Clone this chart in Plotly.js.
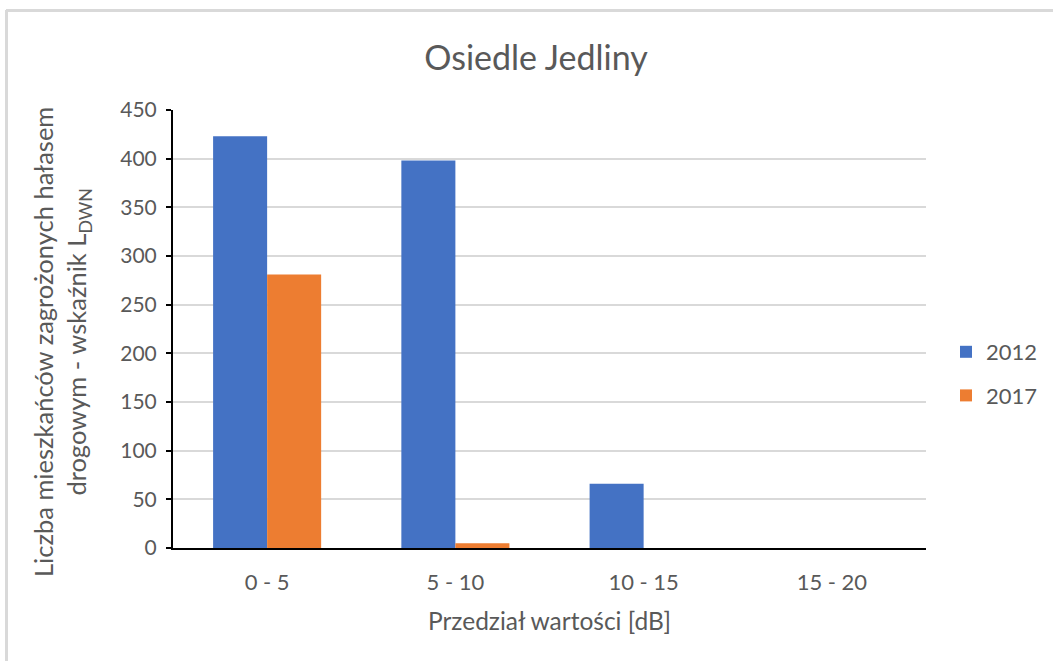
<!DOCTYPE html>
<html>
<head>
<meta charset="utf-8">
<script src="https://cdn.plot.ly/plotly-3.0.1.min.js"></script>
<style>html,body{margin:0;padding:0;background:#fff;}#chart{width:1053px;height:661px;}</style>
</head>
<body>
<div id="chart"></div>
<script>
const categories = ["0 - 5", "5 - 10", "10 - 15", "15 - 20"];
const values2012 = [423, 398, 66, 0];
const values2017 = [281, 5, 0, 0];
const seriesNames = ["2012", "2017"];
const yTicks = [0, 50, 100, 150, 200, 250, 300, 350, 400, 450];
const yTitle = "Liczba mieszkańców zagrożonych hałasem<br>drogowym - wskaźnik L<sub>DWN</sub>";

const FONT = "Lato, 'Open Sans', sans-serif";
const TXT = "#595959";

const traces = [
  {type: "bar", name: seriesNames[0], x: categories, y: values2012,
   marker: {color: "#4472c4"}, legendgroup: "a", hoverinfo: "x+y"},
  {type: "bar", name: seriesNames[1], x: categories, y: values2017,
   marker: {color: "#ed7d31"}, legendgroup: "b", hoverinfo: "x+y"}
];

const L = 173, R = 127, T = 110, B = 113;
const W = 1053 - L - R, H = 661 - T - B;
const px = v => (v - L) / W;
const py = v => 1 - (v - T) / H;

const layout = {
  width: 1053, height: 661,
  margin: {l: L, r: R, t: T, b: B, autoexpand: false},
  paper_bgcolor: "#fff", plot_bgcolor: "#fff",
  font: {family: FONT, color: TXT, size: 22},
  title: {text: "Osiedle Jedliny", font: {family: FONT, size: 34, color: TXT},
          x: 536/1053, xanchor: "center", y: 1 - 58/661, yanchor: "middle"},
  barmode: "group", bargap: 0.426, bargroupgap: 0,
  xaxis: {
    type: "category", showline: true, linecolor: "#000", linewidth: 2,
    ticks: "", showgrid: false, zeroline: false, ticklabelstandoff: 14,
    tickfont: {size: 22, color: TXT, family: FONT},
    title: {text: "Przedział wartości [dB]", font: {size: 24.5, color: TXT, family: FONT}, standoff: 18}
  },
  yaxis: {
    range: [0, 450], tickvals: yTicks, showline: true, linecolor: "#000", linewidth: 2,
    ticks: "outside", ticklen: 5, tickwidth: 2, tickcolor: "#000", ticklabelstandoff: 5,
    showgrid: true, gridcolor: "#d9d9d9", gridwidth: 2, zeroline: false,
    tickfont: {size: 21, color: TXT, family: FONT}
  },
  annotations: [
    {text: yTitle, xref: "paper", yref: "paper", x: px(62), y: py(342), textangle: -90,
     xanchor: "center", yanchor: "middle", showarrow: false,
     font: {size: 25.5, color: TXT, family: FONT}}
  ],
  legend: {x: px(946), y: py(374), xanchor: "left", yanchor: "middle",
           tracegroupgap: 12, traceorder: "grouped",
           font: {size: 22, color: TXT, family: FONT}, bgcolor: "rgba(0,0,0,0)"},
  shapes: [
    {type: "line", xref: "paper", yref: "paper", x0: px(6), x1: px(1053), y0: py(10.5), y1: py(10.5),
     line: {color: "#d9d9d9", width: 3}},
    {type: "line", xref: "paper", yref: "paper", x0: px(6.5), x1: px(6.5), y0: py(10), y1: py(661),
     line: {color: "#d9d9d9", width: 3}}
  ]
};

Plotly.newPlot("chart", traces, layout, {displayModeBar: false, staticPlot: true});
</script>
</body>
</html>
